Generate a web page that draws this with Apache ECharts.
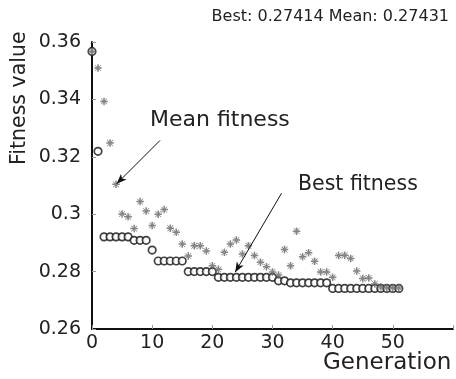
<!DOCTYPE html>
<html>
<head>
<meta charset="utf-8">
<script src="https://cdn.jsdelivr.net/npm/echarts@6/dist/echarts.min.js"></script>
<style>
html,body{margin:0;padding:0;background:#fff;}
#chart{width:456px;height:379px;}
</style>
</head>
<body>
<div id="chart"></div>
<script>
const generations = [];
for (let g = 0; g <= 51; g++) generations.push(g);

const meanFitness = [
  0.3567, 0.3509, 0.3393, 0.3248, 0.3104, 0.3001, 0.2991, 0.2950, 0.3044, 0.3011,
  0.2961, 0.3000, 0.3016, 0.2951, 0.2937, 0.2896, 0.2854, 0.2890, 0.2890, 0.2872,
  0.2820, 0.2808, 0.2867, 0.2896, 0.2910, 0.2861, 0.2890, 0.2856, 0.2833, 0.2817,
  0.2799, 0.2788, 0.2877, 0.2820, 0.2941, 0.2852, 0.2866, 0.2836, 0.2799, 0.2799,
  0.2780, 0.2856, 0.2857, 0.2846, 0.2802, 0.2776, 0.2778, 0.2757, 0.2746, 0.2744,
  0.2744, 0.27431
];

const bestFitness = [
  0.3567, 0.3219, 0.2921, 0.2921, 0.2921, 0.2921, 0.2921, 0.2909, 0.2909, 0.2909,
  0.2875, 0.2837, 0.2837, 0.2837, 0.2837, 0.2837, 0.2800, 0.2800, 0.2800, 0.2800,
  0.2800, 0.2780, 0.2780, 0.2780, 0.2780, 0.2780, 0.2780, 0.2780, 0.2780, 0.2780,
  0.2780, 0.2768, 0.2768, 0.2761, 0.2761, 0.2761, 0.2761, 0.2761, 0.2761, 0.2761,
  0.27414, 0.27414, 0.27414, 0.27414, 0.27414, 0.27414, 0.27414, 0.27414, 0.27414, 0.27414,
  0.27414, 0.27414
];

const xTicks = [0, 10, 20, 30, 40, 50];
const yTicks = [0.26, 0.28, 0.3, 0.32, 0.34, 0.36];

const titleText = 'Best: 0.27414 Mean: 0.27431';
const meanArrow = [[11.3, 0.3257], [4.1, 0.3106]];
const bestArrow = [[31.5, 0.3073], [23.8, 0.2798]];

const FONT = '"DejaVu Sans"';
const asterisk = 'path://M4,0 h2 v10 h-2 Z M0,4 h10 v2 h-10 Z M1.5,0.8 L9.2,8.5 L8.5,9.2 L0.8,1.5 Z M8.5,0.8 L9.2,1.5 L1.5,9.2 L0.8,8.5 Z';

const chart = echarts.init(document.getElementById('chart'), null, {renderer: 'canvas'});
chart.setOption({
  animation: false,
  backgroundColor: '#fff',
  grid: {left: 92, right: 0, top: 42, bottom: 50, containLabel: false},
  xAxis: {
    type: 'value', min: 0, max: 60, interval: 10,
    axisLine: {show: true, lineStyle: {color: '#111', width: 2}},
    axisTick: {show: true, inside: true, length: 4, lineStyle: {color: '#999', width: 1}},
    axisLabel: {
      show: true, margin: 5, color: '#222', fontFamily: FONT, fontSize: 19,
      formatter: v => xTicks.indexOf(v) >= 0 ? String(v) : ''
    },
    splitLine: {show: false}
  },
  yAxis: {
    type: 'value', min: 0.26, max: 0.36, interval: 0.02,
    axisLine: {show: true, lineStyle: {color: '#111', width: 2}},
    axisTick: {show: true, inside: true, length: 4, lineStyle: {color: '#999', width: 1}},
    axisLabel: {
      show: true, margin: 11, color: '#222', fontFamily: FONT, fontSize: 19,
      formatter: v => {
        const t = yTicks.find(y => Math.abs(y - v) < 1e-9);
        return t === undefined ? '' : String(t);
      }
    },
    splitLine: {show: false}
  },
  graphic: [
    {type: 'text', right: 7, top: 9, style: {text: titleText, font: '16px ' + FONT, fill: '#222'}},
    {type: 'text', left: 150, top: 109, style: {text: 'Mean fitness', font: '22px ' + FONT, fill: '#222'}},
    {type: 'text', left: 298, top: 174, style: {text: 'Best fitness', font: '20.5px ' + FONT, fill: '#222'}},
    {type: 'text', left: 323, top: 352, style: {text: 'Generation', font: '23px ' + FONT, fill: '#222'}},
    {type: 'text', x: 9, y: 165, rotation: Math.PI / 2, style: {text: 'Fitness value', font: '20.5px ' + FONT, fill: '#222'}}
  ],
  series: [
    {
      name: 'Best fitness', type: 'scatter', z: 2,
      data: generations.map((g, i) => [g, bestFitness[i]]),
      symbol: 'circle', symbolSize: 7.5,
      itemStyle: {color: '#fff', borderColor: '#111', borderWidth: 1.7},
      markLine: {
        silent: true, animation: false,
        symbol: ['none', 'arrow'], symbolSize: [6, 10],
        lineStyle: {color: '#111', width: 1, type: 'solid'},
        label: {show: false},
        data: [[{coord: bestArrow[0]}, {coord: bestArrow[1]}]]
      }
    },
    {
      name: 'Mean fitness', type: 'scatter', z: 3,
      data: generations.map((g, i) => [g, meanFitness[i]]),
      symbol: asterisk, symbolSize: 7.5,
      itemStyle: {color: '#666'},
      markLine: {
        silent: true, animation: false,
        symbol: ['none', 'arrow'], symbolSize: [6, 10],
        lineStyle: {color: '#111', width: 1, type: 'solid'},
        label: {show: false},
        data: [[{coord: meanArrow[0]}, {coord: meanArrow[1]}]]
      }
    }
  ]
});
</script>
</body>
</html>
